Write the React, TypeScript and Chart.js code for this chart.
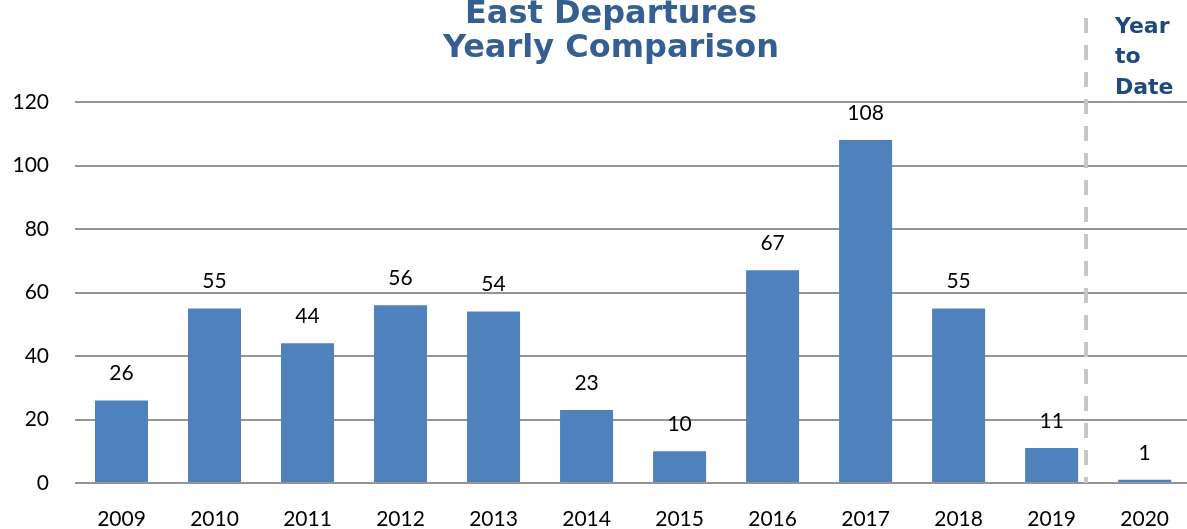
import React, { useEffect, useRef } from "react";
import { Chart, registerables } from "chart.js";

Chart.register(...registerables);

const years = ["2009", "2010", "2011", "2012", "2013", "2014", "2015", "2016", "2017", "2018", "2019", "2020"];
const departures = [26, 55, 44, 56, 54, 23, 10, 67, 108, 55, 11, 1];
const yTicks = [0, 20, 40, 60, 80, 100, 120];
const titleLines = ["East Departures", "Yearly Comparison"];
const ytdLines = ["Year", "to", "Date"];
const dividerAt = 10.37;

const labelFont = "Lato, 'Open Sans', sans-serif";

const overlayPlugin = {
  id: "overlay",
  afterDatasetsDraw(chart: any) {
    const ctx = chart.ctx;
    const meta = chart.getDatasetMeta(0);
    ctx.save();
    ctx.fillStyle = "#000000";
    ctx.font = `21px ${labelFont}`;
    ctx.textAlign = "center";
    ctx.textBaseline = "middle";
    meta.data.forEach((bar: any, i: number) => {
      ctx.fillText(String(departures[i]), bar.x, bar.y - 27);
    });
    ctx.restore();
  },
  afterDraw(chart: any) {
    const ctx = chart.ctx;
    const x = chart.scales.x.getPixelForValue(dividerAt);
    ctx.save();
    ctx.strokeStyle = "#c6c6c6";
    ctx.lineWidth = 4;
    ctx.setLineDash([15, 12]);
    ctx.beginPath();
    ctx.moveTo(x, 18);
    ctx.lineTo(x, chart.chartArea.bottom);
    ctx.stroke();
    ctx.setLineDash([]);

    ctx.fillStyle = "#365f91";
    ctx.font = "bold 32px 'DejaVu Sans', sans-serif";
    ctx.textAlign = "center";
    ctx.textBaseline = "alphabetic";
    ctx.fillText(titleLines[0], 611, 23);
    ctx.fillText(titleLines[1], 611, 57);

    ctx.fillStyle = "#1f497d";
    ctx.font = "bold 22px 'DejaVu Sans', sans-serif";
    ctx.textAlign = "left";
    ytdLines.forEach((t, i) => {
      ctx.fillText(t, 1115, 33 + i * 30.3);
    });
    ctx.restore();
  },
};

export default function App() {
  const ref = useRef<HTMLCanvasElement | null>(null);
  useEffect(() => {
    document.body.style.margin = "0";
    document.body.style.overflow = "hidden";
    if (!ref.current) return;
    const chart = new Chart(ref.current, {
      type: "bar",
      data: {
        labels: years,
        datasets: [
          {
            data: departures,
            backgroundColor: "#4f81bd",
            borderWidth: 0,
            categoryPercentage: 1,
            barPercentage: 0.57,
          },
        ],
      },
      options: {
        animation: false,
        responsive: false,
        devicePixelRatio: 1,
        layout: { padding: { top: 102, right: 0, bottom: 0, left: 0 } },
        plugins: { legend: { display: false }, tooltip: { enabled: false }, title: { display: false } },
        scales: {
          x: {
            grid: { display: false, drawTicks: false },
            border: { display: false },
            ticks: { color: "#000000", font: { family: labelFont, size: 21 }, padding: 24, maxRotation: 0, autoSkip: false },
            afterFit: (s: any) => {
              s.height = 46;
            },
          },
          y: {
            min: 0,
            max: 120,
            afterBuildTicks: (s: any) => {
              s.ticks = yTicks.map((v) => ({ value: v }));
            },
            grid: { color: "#959595", lineWidth: 2, drawTicks: false },
            border: { display: false },
            ticks: { color: "#000000", font: { family: labelFont, size: 21 }, padding: 26 },
            afterFit: (s: any) => {
              s.width = 75;
            },
          },
        },
      },
      plugins: [overlayPlugin],
    });
    return () => chart.destroy();
  }, []);
  return (
    <div style={{ position: "fixed", left: 0, top: 0, width: 1187, height: 529, overflow: "hidden", background: "#fff" }}>
      <canvas ref={ref} width={1193} height={529} style={{ width: 1193, height: 529, display: "block" }} />
    </div>
  );
}
